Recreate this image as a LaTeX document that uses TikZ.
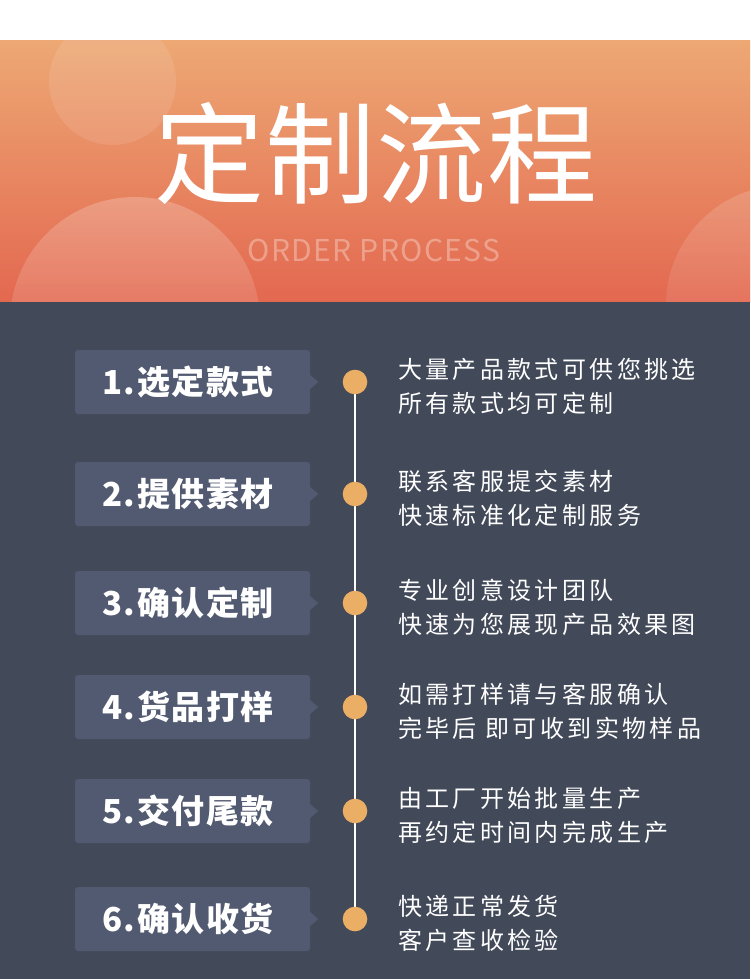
\documentclass[tikz,border=0pt]{standalone}
\usepackage{fontspec}
\setmainfont{Noto Sans CJK SC}
\newfontfamily\titlefont{Noto Sans CJK SC}[LetterSpace=1]
\newfontfamily\engfont{Noto Sans CJK SC}[LetterSpace=4.5]
\newfontfamily\labfont{Noto Sans CJK SC}[LetterSpace=5]
\newfontfamily\bodyfont{Noto Sans CJK SC}[LetterSpace=14]
\usetikzlibrary{calc,fadings}
\definecolor{hdtop}{HTML}{EDA874}
\definecolor{hdbot}{HTML}{E36850}
\definecolor{darkbg}{HTML}{424959}
\definecolor{boxfill}{HTML}{525A71}
\definecolor{dotfill}{HTML}{EBAE65}
\tikzset{
  stepbox/.style={rectangle, rounded corners=3pt, fill=boxfill, minimum width=235pt, minimum height=64pt, inner sep=0pt},
  steplab/.style={inner sep=0pt, text=white, font=\labfont\bfseries\fontsize{33}{36}\selectfont},
  stepdot/.style={circle, fill=dotfill, minimum size=24.6pt, inner sep=0pt},
  desc/.style={anchor=west, align=left, inner sep=0pt, text=white, font=\bodyfont\fontsize{24}{34}\selectfont},
  tline/.style={white, line width=2pt}
}
\begin{document}
\begin{tikzpicture}[x=1pt,y=-1pt]
\useasboundingbox (0,0) rectangle (750,979);
\fill[white] (0,0) rectangle (750,41);
\shade[top color=hdtop, bottom color=hdbot] (0,41) rectangle (750,302);
\begin{scope}
  \clip (0,41) rectangle (750,302);
  \fill[white, fill opacity=0.1] (112.5,81.5) circle (63.5);
  \fill[white, fill opacity=0.22, path fading=south] (135,322) circle (125);
  \fill[white, fill opacity=0.16, path fading=south] (786,305) circle (120);
\end{scope}
\fill[darkbg] (0,302) rectangle (750,979);
\node[inner sep=0pt, text=white, font=\titlefont\fontsize{110}{112}\selectfont] (title) at (376,153) {定制流程};
\node[inner sep=0pt, text=white, text opacity=0.32, font=\engfont\fontsize{30}{32}\selectfont] (sub) at (374,251) {ORDER PROCESS};
\foreach \i/\y/\lab/\ta/\tb in {
  1/382/1.选定款式/大量产品款式可供您挑选/所有款式均可定制,
  2/494/2.提供素材/联系客服提交素材/快速标准化定制服务,
  3/603/3.确认定制/专业创意设计团队/快速为您展现产品效果图,
  4/707/4.货品打样/如需打样请与客服确认/完毕后 即可收到实物样品,
  5/811/5.交付尾款/由工厂开始批量生产/再约定时间内完成生产,
  6/919/6.确认收货/快递正常发货/客户查收检验}{
  \node[stepbox] (box\i) at (192.5,\y) {};
  \node[steplab] (lab\i) at (188,\y) {\lab};
  \fill[boxfill] ($(box\i.east)+(0,-7)$) -- ($(box\i.east)+(8,0)$) -- ($(box\i.east)+(0,7)$) -- cycle;
  \coordinate (t\i) at (355,\y);
  \node[desc] (txt\i) at (398,\y+4) {\ta\\\tb};
}
\draw[tline] (t1) -- (t6);
\foreach \i in {1,...,6}{
  \node[stepdot] (dot\i) at (t\i) {};
}
\end{tikzpicture}
\end{document}
